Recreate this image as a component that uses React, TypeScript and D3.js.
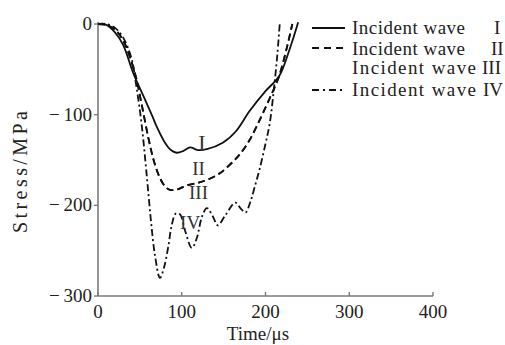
import React from "react";
import * as d3 from "d3";

const timeI = [0, 10, 20, 30, 42, 55, 65, 70, 80, 87, 94, 102, 110, 119, 130, 149, 165, 181, 200, 216, 228, 239];
const stressI = [0, -1, -9, -23, -54, -81, -102, -113, -131, -139, -142, -140, -136, -139, -138, -131, -118, -96, -74, -58, -30, 2];

const timeII = [0, 10, 20, 30, 44, 52, 60, 67, 74, 80, 86, 96, 106, 120, 130, 145, 161, 170, 181, 193, 205, 216, 225, 232];
const stressII = [0, -1, -6, -18, -54, -88, -125, -152, -170, -179, -183, -182, -178, -175, -172, -165, -152, -143, -128, -106, -82, -58, -28, 0];

const timeIII = [0, 10, 20, 30, 44, 52, 60, 67, 74, 80, 86, 96, 106, 120, 130, 145, 161, 170, 181, 193, 205, 216, 225, 232];
const stressIII = [0, -1, -6, -18, -54, -88, -125, -152, -170, -179, -183, -182, -178, -175, -172, -165, -152, -143, -128, -106, -82, -58, -28, 0];

const timeIV = [0, 10, 20, 30, 40, 46, 52, 58, 63, 68, 74, 79, 84, 88, 93, 98, 104, 112, 118, 124, 130, 137, 143, 152, 164, 170, 176, 182, 187, 193, 200, 205, 210, 214, 217];
const stressIV = [0, 0, -4, -15, -38, -70, -110, -165, -215, -255, -280, -268, -245, -222, -209, -210, -228, -247, -236, -213, -203, -212, -222, -211, -197, -203, -208, -196, -180, -160, -132, -110, -72, -35, 0];

const xTicks = [0, 100, 200, 300, 400];
const yTicks = [0, -100, -200, -300];

const seriesNames = ["Incident wave", "Incident wave", "Incident wave", "Incident wave"];
const numerals = ["I", "II", "III", "IV"];
const labelTimes = [124, 120, 120, 110];
const labelStress = [-139, -166, -193, -226];

const FONT = "'Liberation Serif', 'Times New Roman', serif";

export default function App() {
  const x = d3.scaleLinear().domain([0, 400]).range([98, 433]);
  const y = d3.scaleLinear().domain([-300, 0]).range([296, 24]);

  const mk = (t: number[], s: number[]) =>
    d3
      .line<number>()
      .x((_, i) => x(t[i]))
      .y((v) => y(v))
      .curve(d3.curveCatmullRom.alpha(0.5))(s) || "";

  const series = [
    { t: timeI, s: stressI, dash: "none" },
    { t: timeII, s: stressII, dash: "7,4" },
    { t: timeIII, s: stressIII, dash: "7,4" },
    { t: timeIV, s: stressIV, dash: "7,3,2,3" },
  ];

  const legendRows = [
    { y: 28, base: 34, dash: "none", show: true, len: 113, numX: 494 },
    { y: 48, base: 55, dash: "7,5", show: true, len: 113, numX: 491 },
    { y: 68, base: 74, dash: "none", show: false, len: 124, numX: 482 },
    { y: 90, base: 96, dash: "7,4,2,4", show: true, len: 124, numX: 483 },
  ];

  return (
    <svg
      width={505}
      height={345}
      style={{ position: "absolute", left: 0, top: 0, background: "#fff" }}
      fontFamily={FONT}
    >
      <rect x={0} y={0} width={505} height={345} fill="#fff" />
      {/* axes */}
      <line x1={98} x2={98} y1={22} y2={296} stroke="#7a7a7a" strokeWidth={1.6} />
      <line x1={98} x2={433} y1={296} y2={296} stroke="#7a7a7a" strokeWidth={1.6} />
      {yTicks.map((v) => (
        <g key={"y" + v}>
          <line x1={94} x2={98} y1={y(v)} y2={y(v)} stroke="#7a7a7a" strokeWidth={1.4} />
          <text x={92} y={y(v) + 6} textAnchor="end" fontSize={19} fill="#222">
            {v < 0 ? "\u2212\u2009" + Math.abs(v) : String(v)}
          </text>
        </g>
      ))}
      {xTicks.map((v) => (
        <g key={"x" + v}>
          <line x1={x(v)} x2={x(v)} y1={292} y2={296} stroke="#7a7a7a" strokeWidth={1.4} />
          <text x={x(v)} y={318} textAnchor="middle" fontSize={19} fill="#222">
            {String(v)}
          </text>
        </g>
      ))}
      <text x={258} y={340} textAnchor="middle" fontSize={19} fill="#222">
        Time/μs
      </text>
      <text
        transform="translate(27,172) rotate(-90)"
        textAnchor="middle"
        fontSize={20}
        fill="#222"
        textLength={122}
        lengthAdjust="spacing"
      >
        Stress/MPa
      </text>

      {/* curves */}
      {series.map((sr, i) => (
        <path
          key={"s" + i}
          d={mk(sr.t, sr.s)}
          fill="none"
          stroke="#111"
          strokeWidth={1.8}
          strokeDasharray={sr.dash}
        />
      ))}

      {/* curve labels */}
      {numerals.map((n, i) => (
        <text
          key={"n" + i}
          x={x(labelTimes[i])}
          y={y(labelStress[i])}
          textAnchor="middle"
          fontSize={i === 0 ? 22 : 19}
          fill="#333"
        >
          {n}
        </text>
      ))}

      {/* legend */}
      {legendRows.map((r, i) => (
        <g key={"l" + i}>
          {r.show && (
            <line x1={312} x2={345} y1={r.y} y2={r.y} stroke="#111" strokeWidth={1.8} strokeDasharray={r.dash} />
          )}
          <text x={352} y={r.base} fontSize={19} fill="#222" textLength={r.len} lengthAdjust="spacing">
            {seriesNames[i]}
          </text>
          <text x={r.numX} y={r.base} fontSize={19} fill="#222">
            {numerals[i]}
          </text>
        </g>
      ))}
    </svg>
  );
}
